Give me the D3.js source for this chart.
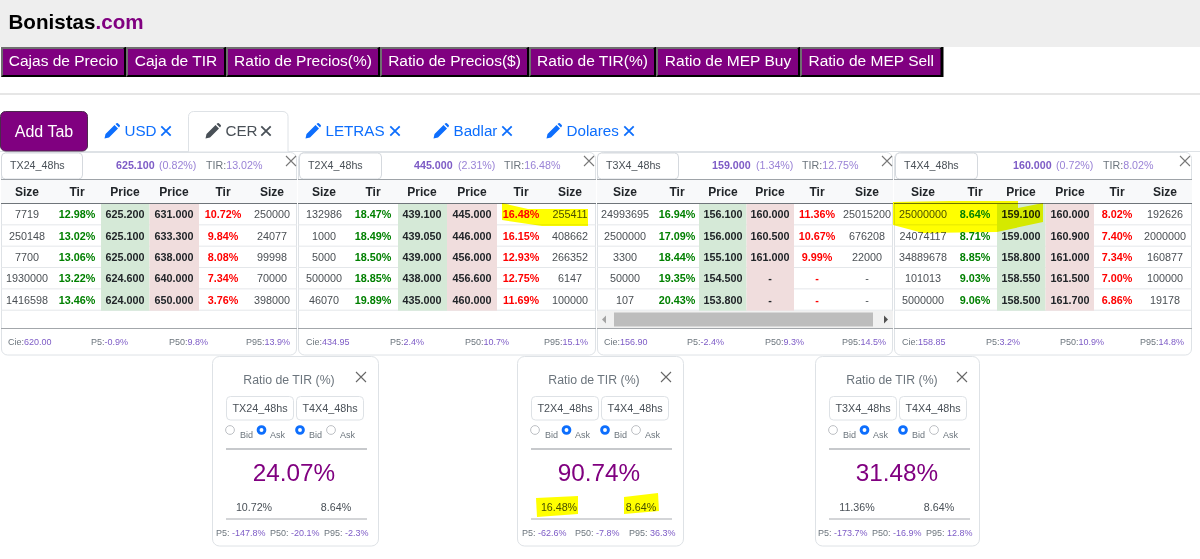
<!DOCTYPE html>
<html>
<head>
<meta charset="utf-8">
<title>Bonistas.com</title>
<script src="https://cdn.jsdelivr.net/npm/d3@7"></script>
<style>
    html, body { margin: 0; padding: 0; background: #fff; overflow: hidden; }
    svg { display: block; font-family: "Liberation Sans", Arial, sans-serif; }
    .marker { mix-blend-mode: multiply; fill: #ffff00; }
</style>
</head>
<body>
<svg id="page" width="1200" height="559"></svg>
<script>
const navLabels = ['Cajas de Precio', 'Caja de TIR', 'Ratio de Precios(%)', 'Ratio de Precios($)', 'Ratio de TIR(%)', 'Ratio de MEP Buy', 'Ratio de MEP Sell'];
const tabLabels = ['USD', 'CER', 'LETRAS', 'Badlar', 'Dolares'];
const activeTab = 'CER';

const tickers = ['TX24_48hs', 'T2X4_48hs', 'T3X4_48hs', 'T4X4_48hs'];
const lastPrices = [625.1, 445, 159, 160];
const lastChanges = [0.82, 2.31, 1.34, 0.72];
const lastTirs = [13.02, 16.48, 12.75, 8.02];
const columnNames = ['Size', 'Tir', 'Price', 'Price', 'Tir', 'Size'];

const bidSizes = [
    [7719, 250148, 7700, 1930000, 1416598],
    [132986, 1000, 5000, 500000, 46070],
    [24993695, 2500000, 3300, 50000, 107],
    [25000000, 24074117, 34889678, 101013, 5000000],
];
const bidTirs = [
    [12.98, 13.02, 13.06, 13.22, 13.46],
    [18.47, 18.49, 18.50, 18.85, 19.89],
    [16.94, 17.09, 18.44, 19.35, 20.43],
    [8.64, 8.71, 8.85, 9.03, 9.06],
];
const bidPrices = [
    [625.2, 625.1, 625, 624.6, 624],
    [439.1, 439.05, 439, 438, 435],
    [156.1, 156, 155.1, 154.5, 153.8],
    [159.1, 159, 158.8, 158.55, 158.5],
];
const askPrices = [
    [631, 633.3, 638, 640, 650],
    [445, 446, 456, 456.6, 460],
    [160, 160.5, 161, null, null],
    [160, 160.9, 161, 161.5, 161.7],
];
const askTirs = [
    [10.72, 9.84, 8.08, 7.34, 3.76],
    [16.48, 16.15, 12.93, 12.75, 11.69],
    [11.36, 10.67, 9.99, null, null],
    [8.02, 7.40, 7.34, 7.00, 6.86],
];
const askSizes = [
    [250000, 24077, 99998, 70000, 398000],
    [255411, 408662, 266352, 6147, 100000],
    [25015200, 676208, 22000, null, null],
    [192626, 2000000, 160877, 100000, 19178],
];

const closes = [620, 434.95, 156.9, 158.85];
const panelP5 = [-0.9, 2.4, -2.4, 3.2];
const panelP50 = [9.8, 10.7, 9.3, 10.9];
const panelP95 = [13.9, 15.1, 14.5, 14.8];

const ratioTitle = 'Ratio de TIR (%)';
const ratioLeft = ['TX24_48hs', 'T2X4_48hs', 'T3X4_48hs'];
const ratioRight = ['T4X4_48hs', 'T4X4_48hs', 'T4X4_48hs'];
const ratioValues = [24.07, 90.74, 31.48];
const ratioLeftTirs = [10.72, 16.48, 11.36];
const ratioRightTirs = [8.64, 8.64, 8.64];
const ratioP5 = [-147.8, -62.6, -173.7];
const ratioP50 = [-20.1, -7.8, -16.9];
const ratioP95 = [-2.3, 36.3, 12.8];

const PURPLE = '#800080';
const BLUE = '#0d6efd';
const VIOLET = '#7d5bc6';
const GREY = '#6c757d';
const BORDER = '#dee2e6';
const PENCIL = 'M0.5,15.5L1.5,11L10.5,2L14,5.5L5,14.5ZM11.5,1L12.5,0.3a1,1 0 0 1 1.4,0L15.7,2.1a1,1 0 0 1 0,1.4L15,4.5Z';

// the tables are auto-layout in the original, so every panel has its own column centres
const panelFrames = [
    { x0: 1, x1: 297, box: [1, 82], name: 10, price: 116, pct: 159, tir: 206, close: 291, cols: [27, 77, 125, 174, 223, 272], bid: [101, 149.5], ask: [149.5, 199], foot: [8, 91, 169, 246] },
    { x0: 298, x1: 596, box: [299, 381], name: 308, price: 414, pct: 458, tir: 504, close: 589, cols: [324, 373, 422, 472, 521, 570], bid: [398, 447], ask: [447, 497], foot: [306, 390, 465, 544] },
    { x0: 597, x1: 893, box: [597, 678], name: 606, price: 712, pct: 756, tir: 802, close: 887, cols: [625, 677, 723, 770, 817, 867], bid: [699, 746.5], ask: [746.5, 794], foot: [604, 687, 765, 842] },
    { x0: 894, x1: 1192, box: [895, 977], name: 904, price: 1013, pct: 1056, tir: 1103, close: 1185, cols: [923, 975, 1021, 1070, 1117, 1165], bid: [997, 1045.5], ask: [1045.5, 1094], foot: [902, 986, 1060, 1140] },
];
const cardFrames = [
    { x: 212, w: 166, close: 149, foot: [4, 58, 112] },
    { x: 517, w: 166, close: 149, foot: [5, 58, 112] },
    { x: 815, w: 164, close: 147, foot: [3, 57, 111] },
];

const fmtPrice = d3.format('.3f');
const fmtPct = (v) => v.toFixed(2) + '%';
const fmtOne = (v) => v.toFixed(1) + '%';
const dash = (fmt) => (v) => (v === null ? '-' : fmt(v));

const svg = d3.select('#page');

function label(parent, x, y, str, size, fill, opts = {}) {
    return parent.append('text')
        .attr('x', x)
        .attr('y', y)
        .attr('dy', '0.35em')
        .attr('font-size', size)
        .attr('fill', fill)
        .attr('font-weight', opts.bold ? 'bold' : null)
        .attr('text-anchor', opts.anchor || 'start')
        .text(str);
}

function closeIcon(parent, cx, cy, r, color, width) {
    parent.append('path')
        .attr('d', `M${cx - r},${cy - r}L${cx + r},${cy + r}M${cx + r},${cy - r}L${cx - r},${cy + r}`)
        .attr('stroke', color)
        .attr('stroke-width', width)
        .attr('fill', 'none');
}

function drawHeader() {
    svg.append('rect').attr('width', 1200).attr('height', 47).attr('fill', '#eeeeee');
    const title = svg.append('text')
        .attr('x', 8.5).attr('y', 29)
        .attr('font-size', 20.6).attr('font-weight', 'bold');
    title.append('tspan').attr('fill', '#000').text('Bonistas');
    title.append('tspan').attr('fill', PURPLE).text('.com');

    // nav buttons: outset border, grey top and left, black bottom and right
    const edges = [2, 127, 227, 381, 530, 657, 801, 942.5];
    const nav = svg.append('g').selectAll('g').data(navLabels).join('g');
    nav.each(function (d, i) {
        const g = d3.select(this);
        const x0 = edges[i];
        const x1 = i < 6 ? edges[i + 1] - 1 : edges[7];
        g.append('rect').attr('x', x0 - 1).attr('y', 47).attr('width', x1 - x0 + 2).attr('height', 30).attr('fill', '#000');
        g.append('path')
            .attr('d', `M${x0 - 1},47H${x1 - 1}L${x1 - 3},49H${x0 + 1}V75L${x0 - 1},77Z`)
            .attr('fill', '#6f6f6f');
        g.append('rect').attr('x', x0 + 1).attr('y', 49).attr('width', x1 - x0 - 3).attr('height', 26).attr('fill', PURPLE);
        label(g, (x0 + x1) / 2 - 0.5, 61, d, 15.5, '#fff', { anchor: 'middle' });
    });

    svg.append('rect').attr('x', 0).attr('y', 93).attr('width', 1200).attr('height', 2).attr('fill', '#e6e6e6');
}

function drawTabs() {
    svg.append('line').attr('x1', 0).attr('x2', 1200).attr('y1', 151.5).attr('y2', 151.5).attr('stroke', BORDER);

    svg.append('rect')
        .attr('x', 0.5).attr('y', 111.5).attr('width', 87).attr('height', 39.5).attr('rx', 5)
        .attr('fill', PURPLE).attr('stroke', '#4d2a4d');
    label(svg, 44, 131, 'Add Tab', 16, '#fff', { anchor: 'middle' });

    svg.append('path')
        .attr('d', 'M188.5,152V116.5a5,5 0 0 1 5,-5H283a5,5 0 0 1 5,5V152Z')
        .attr('fill', '#fff').attr('stroke', BORDER);

    const tabX = d3.scaleOrdinal().domain(tabLabels).range([112, 213, 313, 441, 554]);
    const closeX = d3.scaleOrdinal().domain(tabLabels).range([166, 266, 395, 507, 629]);
    tabLabels.forEach((name) => {
        const color = name === activeTab ? '#495057' : BLUE;
        svg.append('path')
            .attr('d', PENCIL)
            .attr('transform', `translate(${tabX(name) - 8},${123})`)
            .attr('fill', color);
        label(svg, tabX(name) + 12.5, 131, name, 15.2, color);
        closeIcon(svg, closeX(name), 131, 4.7, color, 1.8);
    });
}

function drawPanel(i) {
    const f = panelFrames[i];
    const g = svg.append('g');

    g.append('rect')
        .attr('x', f.x0 + 0.5).attr('y', 152.5).attr('width', f.x1 - f.x0 - 1).attr('height', 202.5).attr('rx', 6)
        .attr('fill', '#fff').attr('stroke', BORDER);
    g.append('rect')
        .attr('x', f.box[0] + 0.5).attr('y', 153).attr('width', f.box[1] - f.box[0]).attr('height', 26).attr('rx', 4)
        .attr('fill', '#fff').attr('stroke', '#d5d9de');
    label(g, f.name, 165.5, tickers[i], 10.7, '#495057');
    label(g, f.price, 165.5, fmtPrice(lastPrices[i]), 10.7, VIOLET, { bold: true });
    label(g, f.pct, 165.5, `(${fmtPct(lastChanges[i])})`, 10.7, '#9a83d6');
    const tir = label(g, f.tir, 165.5, 'TIR:', 10.7, GREY);
    tir.append('tspan').attr('fill', '#9a83d6').text(fmtPct(lastTirs[i]));
    closeIcon(g, f.close, 161, 5, '#777', 1.1);

    const colX = d3.scaleOrdinal().domain(d3.range(6)).range(f.cols);
    const rowY = d3.scaleBand().domain(d3.range(5)).range([204, 310.7]);

    g.append('rect').attr('x', f.x0).attr('y', 180).attr('width', f.x1 - f.x0).attr('height', 23).attr('fill', '#f8f9fa');
    g.append('line').attr('x1', f.x0).attr('x2', f.x1).attr('y1', 179.5).attr('y2', 179.5).attr('stroke', '#9ea3a8');
    g.append('line').attr('x1', f.x0).attr('x2', f.x1).attr('y1', 203.5).attr('y2', 203.5).attr('stroke', '#6f757a');
    columnNames.forEach((c, k) => label(g, colX(k), 191.5, c, 12, '#212529', { bold: true, anchor: 'middle' }));

    g.selectAll('line.row').data(d3.range(5)).join('line')
        .attr('class', 'row')
        .attr('x1', f.x0).attr('x2', f.x1)
        .attr('y1', (r) => rowY(r) + rowY.bandwidth() - 0.5)
        .attr('y2', (r) => rowY(r) + rowY.bandwidth() - 0.5)
        .attr('stroke', '#e4e7ea');

    g.append('rect').attr('x', f.bid[0]).attr('y', 204).attr('width', f.bid[1] - f.bid[0]).attr('height', 106.7).attr('fill', '#d5e9d7');
    g.append('rect').attr('x', f.ask[0]).attr('y', 204).attr('width', f.ask[1] - f.ask[0]).attr('height', 106.7).attr('fill', '#f0dddd');

    const columns = [
        { values: bidSizes[i], fmt: String, fill: '#4a4f54' },
        { values: bidTirs[i], fmt: fmtPct, fill: '#008000', bold: true },
        { values: bidPrices[i], fmt: fmtPrice, fill: '#212529', bold: true },
        { values: askPrices[i], fmt: fmtPrice, fill: '#212529', bold: true },
        { values: askTirs[i], fmt: fmtPct, fill: '#ff0000', bold: true },
        { values: askSizes[i], fmt: String, fill: '#4a4f54' },
    ];
    columns.forEach((col, k) => {
        g.selectAll(null).data(col.values).join('text')
            .attr('x', colX(k))
            .attr('y', (d, r) => rowY(r) + rowY.bandwidth() / 2)
            .attr('dy', '0.35em')
            .attr('text-anchor', 'middle')
            .attr('font-size', 10.8)
            .attr('font-weight', col.bold ? 'bold' : null)
            .attr('fill', col.fill)
            .text(dash(col.fmt));
    });

    g.append('line').attr('x1', f.x0).attr('x2', f.x1).attr('y1', 328.5).attr('y2', 328.5).attr('stroke', '#a3a7ab');

    const foot = [
        ['Cie:', closes[i].toFixed(2)],
        ['P5:', fmtOne(panelP5[i])],
        ['P50:', fmtOne(panelP50[i])],
        ['P95:', fmtOne(panelP95[i])],
    ];
    foot.forEach(([name, value], k) => {
        const t = label(g, f.foot[k], 342, name, 9, GREY);
        t.append('tspan').attr('fill', VIOLET).text(value);
    });
}

function drawScrollbar() {
    const g = svg.append('g');
    g.append('rect').attr('x', 597).attr('y', 311).attr('width', 296).attr('height', 17).attr('fill', '#f1f1f1');
    g.append('rect').attr('x', 614).attr('y', 312.5).attr('width', 259).attr('height', 14).attr('fill', '#bdbdbd');
    g.append('path').attr('d', 'M602,319.5l4,-4v8Z').attr('fill', '#a3a3a3');
    g.append('path').attr('d', 'M888,319.5l-4,-4v8Z').attr('fill', '#505050');
}

function drawRadio(g, cx, checked) {
    if (checked) {
        g.append('circle').attr('cx', cx).attr('cy', 430).attr('r', 3.4)
            .attr('fill', '#fff').attr('stroke', BLUE).attr('stroke-width', 2.9);
    } else {
        g.append('circle').attr('cx', cx).attr('cy', 430).attr('r', 4.4)
            .attr('fill', '#fff').attr('stroke', '#b5b9bd').attr('stroke-width', 0.9);
    }
}

function drawCard(i) {
    const f = cardFrames[i];
    const g = svg.append('g').attr('transform', `translate(${f.x},0)`);

    g.append('rect')
        .attr('x', 0.5).attr('y', 356.5).attr('width', f.w).attr('height', 189.5).attr('rx', 7)
        .attr('fill', '#fff').attr('stroke', BORDER);
    label(g, 77, 380, ratioTitle, 12.3, GREY, { anchor: 'middle' });
    closeIcon(g, f.close, 377, 5, '#666', 1.1);

    [[ratioLeft[i], 14], [ratioRight[i], 84]].forEach(([name, x]) => {
        g.append('rect').attr('x', x + 0.5).attr('y', 396.5).attr('width', 67).attr('height', 23.5).attr('rx', 4)
            .attr('fill', '#fff').attr('stroke', BORDER);
        label(g, x + 34, 408.5, name, 10.8, '#495057', { anchor: 'middle' });
    });

    // left side quotes the ask, right side the bid
    drawRadio(g, 18, false);
    drawRadio(g, 49.5, true);
    drawRadio(g, 88, true);
    drawRadio(g, 119, false);
    [['Bid', 28], ['Ask', 58], ['Bid', 97], ['Ask', 128]].forEach(([s, x]) => label(g, x, 434.5, s, 9, GREY));

    g.append('line').attr('x1', 14).attr('x2', 155).attr('y1', 449).attr('y2', 449).attr('stroke', '#b4b7bb').attr('stroke-width', 1.3);
    label(g, 82, 472.5, fmtPct(ratioValues[i]), 24.3, PURPLE, { anchor: 'middle' });
    label(g, 42, 507, fmtPct(ratioLeftTirs[i]), 10.7, '#495057', { anchor: 'middle' });
    label(g, 124, 507, fmtPct(ratioRightTirs[i]), 10.7, '#495057', { anchor: 'middle' });
    g.append('line').attr('x1', 14).attr('x2', 155).attr('y1', 519).attr('y2', 519).attr('stroke', '#a8abb0').attr('stroke-width', 1);

    const foot = [['P5:', ratioP5[i]], ['P50:', ratioP50[i]], ['P95:', ratioP95[i]]];
    foot.forEach(([name, value], k) => {
        const t = label(g, f.foot[k], 533, name + ' ', 9, GREY);
        t.append('tspan').attr('fill', VIOLET).text(fmtOne(value));
    });
}

// hand drawn highlighter strokes, on top of everything
function drawMarkers() {
    const shape = d3.line().curve(d3.curveLinearClosed);
    const strokes = [
        [[502, 203], [528, 209], [588, 209], [588, 226], [542, 226], [502, 220]],
        [[893, 202], [950, 201], [1018, 201], [1018, 208], [1043, 203], [1043, 222], [997, 232], [923, 233], [893, 225]],
        [[536, 498], [578, 496], [578, 514], [537, 517]],
        [[624, 497], [658, 493], [659, 511], [624, 514]],
    ];
    svg.append('g').selectAll('path').data(strokes).join('path')
        .attr('class', 'marker')
        .attr('d', shape);
}

drawHeader();
drawTabs();
d3.range(4).forEach(drawPanel);
drawScrollbar();
d3.range(3).forEach(drawCard);
drawMarkers();
</script>
</body>
</html>
